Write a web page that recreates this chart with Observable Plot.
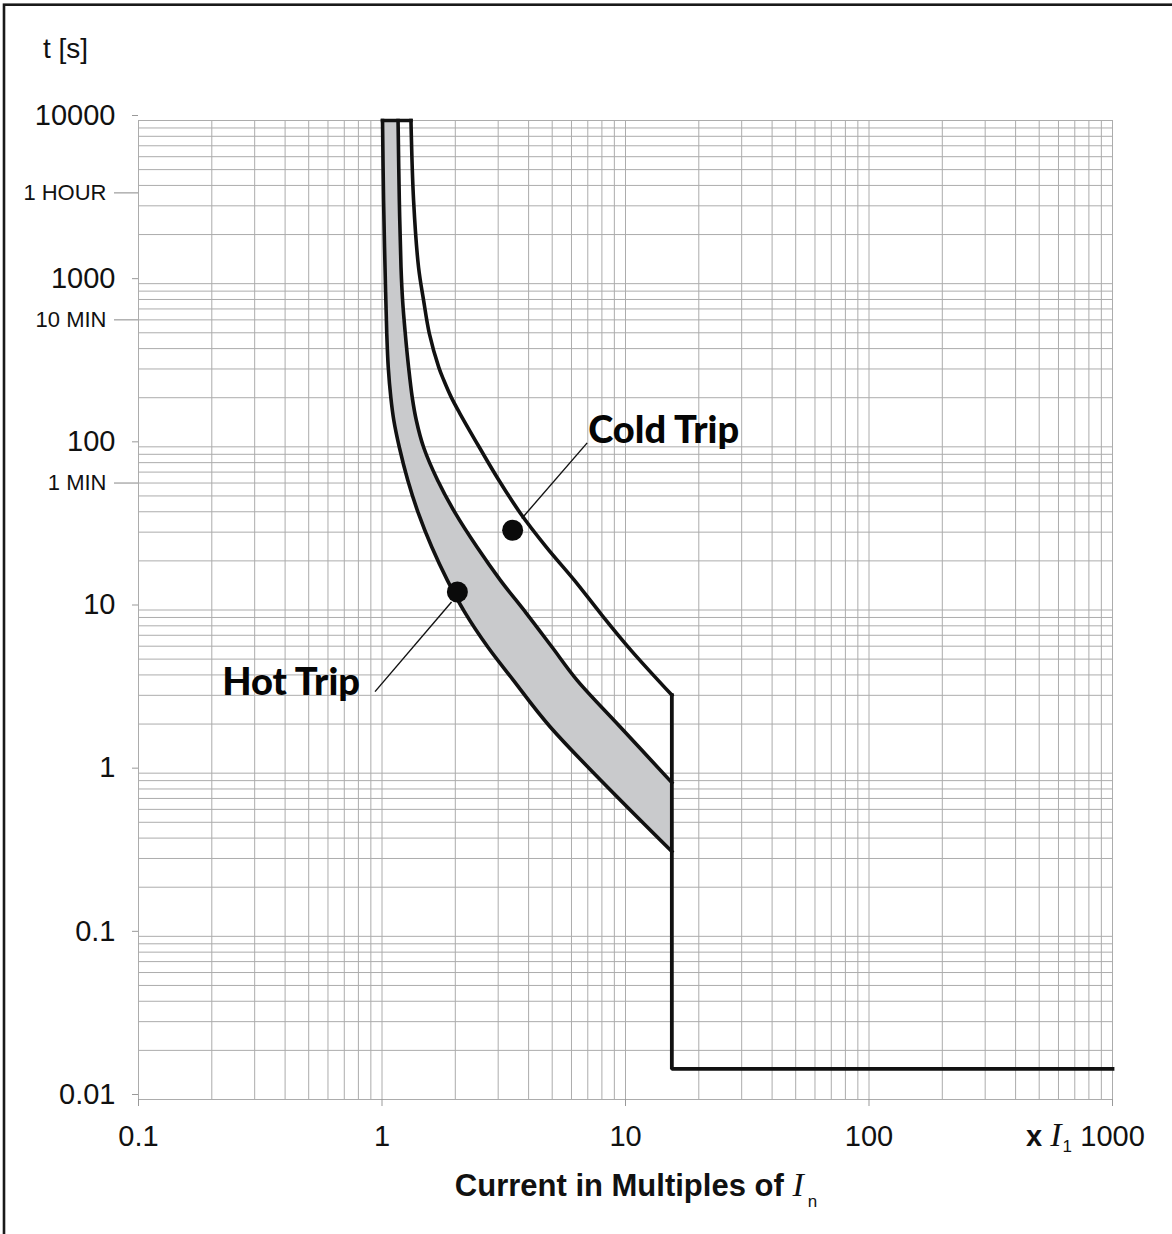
<!DOCTYPE html>
<html><head><meta charset="utf-8">
<script src="https://cdn.jsdelivr.net/npm/d3@7"></script>
<script src="https://cdn.jsdelivr.net/npm/@observablehq/plot@0.6"></script>
<style>html,body{margin:0;padding:0;background:#fff;overflow:hidden;} #chart{width:1172px;height:1234px;overflow:hidden;} #chart svg{max-width:none;display:block;}</style>
</head><body><div id="chart"></div>
<script>
// ---- axis ticks ----
const xTicks = [0.1, 1, 10, 100, 1000];
const xTickLabels = ["0.1", "1", "10", "100", "1000"];
const yTicks = [0.01, 0.1, 1, 10, 100, 1000, 10000];
const yTickLabels = ["0.01", "0.1", "1", "10", "100", "1000", "10000"];
const timeTicks = [3600, 600, 60];
const timeTickLabels = ["1 HOUR", "10 MIN", "1 MIN"];

// ---- curves (current multiple x, trip time t in s) ----
const hotLowX = [1.005, 1.015, 1.029, 1.046, 1.061, 1.087, 1.118, 1.178, 1.276, 1.410, 1.601, 1.854, 2.198, 2.72, 3.46, 4.91, 15.5];
const hotLowT = [10000, 3237, 1258, 496, 307, 201, 145.5, 99.4, 62.4, 39.2, 24.3, 15.25, 9.57, 5.93, 3.72, 1.92, 0.331];
const hotHighX = [1.164, 1.178, 1.197, 1.215, 1.246, 1.286, 1.331, 1.383, 1.482, 1.692, 2.0, 2.455, 3.06, 3.91, 4.99, 6.32, 9.52, 15.5];
const hotHighT = [10000, 3237, 1258, 790, 496, 307, 201, 145.5, 99.4, 62.4, 39.2, 24.3, 15.25, 9.57, 5.93, 3.72, 1.92, 0.875];
const coldX = [1.315, 1.348, 1.413, 1.482, 1.564, 1.711, 1.794, 1.926, 2.087, 2.51, 3.02, 3.70, 4.73, 6.16, 7.88, 10.52, 15.5];
const coldT = [10000, 3237, 1258, 790, 496, 307, 255.8, 201, 160.6, 99.4, 62.4, 39.2, 24.3, 15.25, 9.57, 5.68, 3.01];
const instX = [15.5, 15.5, 1000];
const instT = [3.01, 0.0154, 0.0154];

// ---- callouts ----
const calloutNames = ["Cold Trip", "Hot Trip"];
const dotX = [3.44, 2.04];
const dotT = [30.8, 12.9];
const leaderX1 = [3.75, 1.93];
const leaderT1 = [36.4, 11.2];
const leaderX2 = [6.96, 0.936];
const leaderT2 = [105.7, 3.16];

const pts = (xs, ts) => xs.map((x, i) => ({x, t: ts[i]}));
const hotLow = pts(hotLowX, hotLowT);
const hotHigh = pts(hotHighX, hotHighT);
const cold = pts(coldX, coldT);
const inst = pts(instX, instT);
const band = hotLow.concat(hotHigh.slice().reverse());
const topCap = [{x: hotLowX[0], t: hotLowT[0]}, {x: coldX[0], t: coldT[0]}];
const callouts = calloutNames.map((name, i) => ({name, dx: dotX[i], dt: dotT[i], x1: leaderX1[i], t1: leaderT1[i], x2: leaderX2[i], t2: leaderT2[i]}));
const timeMarks = timeTicks.map((t, i) => ({t, label: timeTickLabels[i]}));

const xLabel = new Map(xTicks.map((v, i) => [v, xTickLabels[i]]));
const yLabel = new Map(yTicks.map((v, i) => [v, yTickLabels[i]]));

const multiples = [1, 2, 3, 4, 5, 6, 7, 8, 9];
const xGrid = d3.range(-1, 3).flatMap(k => multiples.map(m => m * Math.pow(10, k))).concat([1000]);
const yGrid = d3.range(-2, 4).flatMap(k => multiples.map(m => m * Math.pow(10, k))).concat([10000]);

const ink = "#111";
const gridColor = "#acacac";
const sans = "'Liberation Sans', Arial, Helvetica, sans-serif";
const serif = "'Liberation Serif', 'Times New Roman', serif";
const callFont = "Lato, 'Open Sans', sans-serif";

const svg = Plot.plot({
  width: 1172, height: 1234,
  marginLeft: 138, marginRight: 60, marginTop: 120, marginBottom: 135,
  style: {fontFamily: sans, background: "white", color: ink},
  x: {type: "log", domain: [0.1, 1000]},
  y: {type: "log", domain: [0.01, 10000]},
  marks: [
    Plot.gridX(xGrid, {stroke: gridColor, strokeOpacity: 1, strokeWidth: 1}),
    Plot.gridY(yGrid, {stroke: gridColor, strokeOpacity: 1, strokeWidth: 1}),
    Plot.line(band, {x: "x", y: "t", fill: "#c9cacc", stroke: "none"}),
    Plot.line(hotLow, {x: "x", y: "t", stroke: ink, strokeWidth: 3.6, curve: "catmull-rom", strokeLinecap: "square"}),
    Plot.line(hotHigh, {x: "x", y: "t", stroke: ink, strokeWidth: 3.6, curve: "catmull-rom", strokeLinecap: "square"}),
    Plot.line(cold, {x: "x", y: "t", stroke: ink, strokeWidth: 3.6, curve: "catmull-rom", strokeLinecap: "square"}),
    Plot.line(inst, {x: "x", y: "t", stroke: ink, strokeWidth: 3.8, strokeLinejoin: "miter", strokeLinecap: "square"}),
    Plot.line(topCap, {x: "x", y: "t", stroke: ink, strokeWidth: 3.6, strokeLinecap: "square"}),
    Plot.link(callouts, {x1: "x1", y1: "t1", x2: "x2", y2: "t2", stroke: ink, strokeWidth: 1.4}),
    Plot.dot(callouts, {x: "dx", y: "dt", r: 10.5, fill: "#0a0a0a", stroke: "none"}),
    Plot.text(callouts.slice(0, 1), {x: "x2", y: "t2", text: "name", textAnchor: "start", lineAnchor: "bottom", dx: 1, fontSize: 38, fontWeight: 900, fontFamily: callFont, fill: "#050505"}),
    Plot.text(callouts.slice(1, 2), {x: "x2", y: "t2", text: "name", textAnchor: "end", lineAnchor: "bottom", dx: -15, dy: 3, fontSize: 38, fontWeight: 900, fontFamily: callFont, fill: "#050505"}),
    Plot.axisX(xTicks, {tickSize: 7, tickPadding: 19, stroke: "#999", fill: ink, fontSize: 29, tickFormat: d => xLabel.get(d), label: null}),
    Plot.axisY(yTicks, {tickSize: 6, tickPadding: 17, dy: -5, stroke: "#999", fill: ink, fontSize: 29, tickFormat: d => yLabel.get(d), label: null}),
    Plot.axisY(timeTicks, {tickSize: 24, stroke: "#888", tickFormat: () => "", label: null}),
    Plot.text(timeMarks, {y: "t", text: "label", frameAnchor: "left", textAnchor: "end", dx: -32, fontSize: 22, fill: ink})
  ]
});

const s = d3.select(svg);
// frame (top & left visible)
s.append("rect").attr("x", 4).attr("y", 4.7).attr("width", 1300).attr("height", 1400)
  .attr("fill", "none").attr("stroke", "#1a1a1a").attr("stroke-width", 2.6);

// y axis title
s.append("text").attr("x", 43).attr("y", 58).attr("text-anchor", "start")
  .attr("font-family", sans).attr("font-size", 28).attr("fill", ink).text("t [s]");

// x axis title
const title = s.append("text").attr("x", 636).attr("y", 1196).attr("text-anchor", "middle")
  .attr("font-family", sans).attr("fill", ink);
title.append("tspan").attr("font-size", 31).attr("font-weight", "bold").text("Current in Multiples of ");
title.append("tspan").attr("font-family", serif).attr("font-style", "italic").attr("font-size", 34).text("I");
title.append("tspan").attr("font-size", 17).attr("dx", 4).attr("dy", 11).text("n");

// unit prefix before the 1000 label
const xEnd = 1112;
const unit = s.append("text").attr("x", xEnd - 40).attr("y", 1146).attr("text-anchor", "end")
  .attr("font-family", sans).attr("fill", ink);
unit.append("tspan").attr("font-size", 29).attr("font-weight", "bold").text("x ");
unit.append("tspan").attr("font-family", serif).attr("font-style", "italic").attr("font-size", 34).text("I");
unit.append("tspan").attr("font-size", 17).attr("dx", 1).attr("dy", 6).text("1");

document.getElementById("chart").appendChild(svg);
</script>
</body></html>
